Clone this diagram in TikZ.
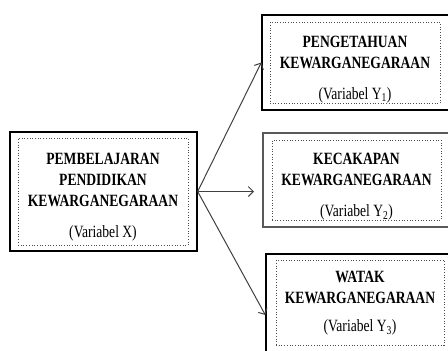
\documentclass[tikz,border=0pt]{standalone}
\usepackage{fontspec}
\setmainfont{Liberation Serif}[FakeStretch=0.79]
\usetikzlibrary{arrows.meta,positioning}

\newcommand{\varfont}{\normalfont\fontsize{17.2}{21}\selectfont}

\begin{document}
\begin{tikzpicture}[x=1pt,y=-1pt,line width=1pt,
  >={Straight Barb[length=5pt,width=10pt]},
  box/.style={draw,rectangle,line width=1.3pt,inner sep=0pt},
  dotbox/.style={draw=black!70,dotted,line width=0.7pt,rectangle,inner sep=0pt},
  title/.style={align=center,inner sep=0pt,font=\fontsize{17.2}{21}\selectfont\bfseries}]

  \useasboundingbox (0,0) rectangle (448,351);
  \clip (0,0) rectangle (448,351);

  % variabel X
  \node[box, minimum width=187pt, minimum height=119pt] (pem) at (103.5,191.5) {};
  \node[dotbox, minimum width=170pt, minimum height=107pt] (pemin) at (103,191.5) {};
  \node[title] (pemtext) at (103,197.5) {PEMBELAJARAN\\PENDIDIKAN\\KEWARGANEGARAAN\\[10pt]\varfont (Variabel X)};

  % variabel Y
  \node[box, minimum width=190pt, minimum height=95pt] (peng) at (357,62.5) {};
  \node[dotbox, minimum width=170pt, minimum height=81pt] (pengin) at (355,62.5) {};
  \node[title] (pengtext) at (355,69.5) {PENGETAHUAN\\KEWARGANEGARAAN\\[10pt]\varfont (Variabel Y\textsubscript{1})};

  \node[box, draw=black!65, line width=2pt, minimum width=189pt, minimum height=94pt] (kec) at (357.5,180) {};
  \node[dotbox, minimum width=169pt, minimum height=80pt] (kecin) at (356.5,180) {};
  \node[title] (kectext) at (356.5,187) {KECAKAPAN\\KEWARGANEGARAAN\\[10pt]\varfont (Variabel Y\textsubscript{2})};

  \node[box, minimum width=189pt, minimum height=122pt] (wat) at (360.5,315) {};
  \node[dotbox, minimum width=168pt, minimum height=85pt] (watin) at (360,302.5) {};
  \node[title] (wattext) at (360,303.5) {WATAK\\KEWARGANEGARAAN\\[7pt]\varfont (Variabel Y\textsubscript{3})};

  % panah
  \draw[->,black!75] (pem.east) -- (peng.west);
  \draw[->,black!75] (pem.east) -- ([xshift=-8pt]pem.east -| kec.west);
  \draw[->,black!75] (pem.east) -- (wat.west);
\end{tikzpicture}
\end{document}
